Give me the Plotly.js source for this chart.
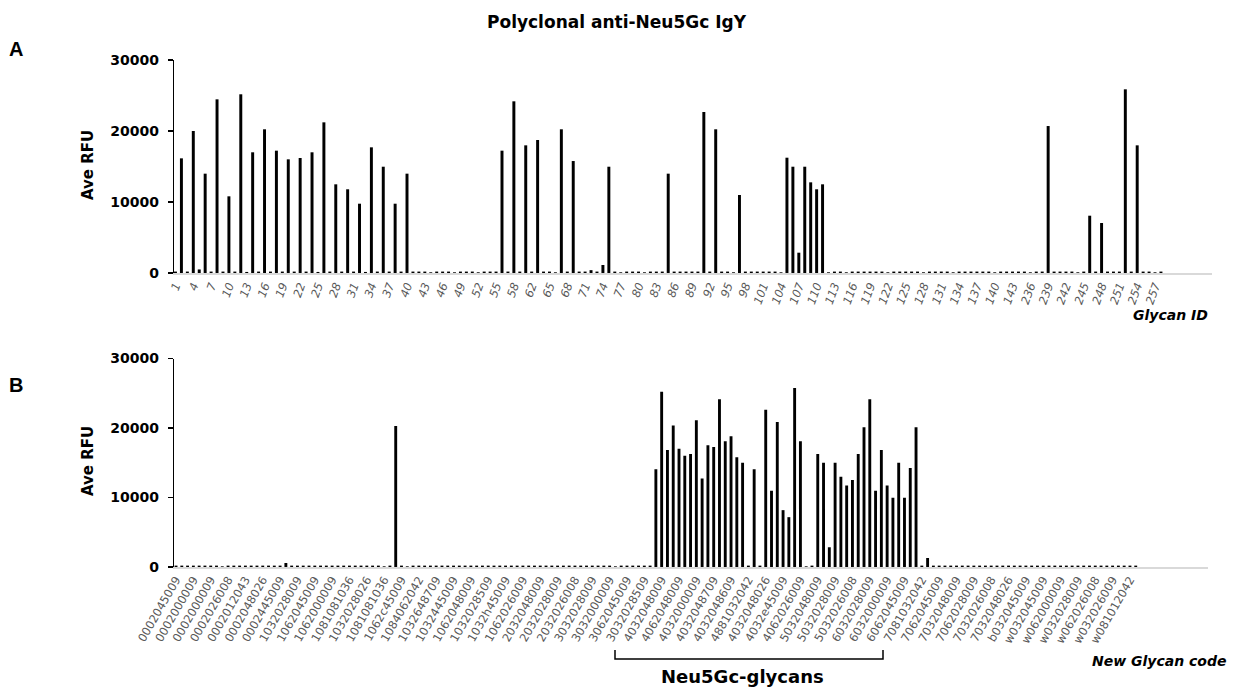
<!DOCTYPE html>
<html>
<head>
<meta charset="utf-8">
<script src="https://cdn.plot.ly/plotly-3.0.1.min.js"></script>
<style>html,body{margin:0;padding:0;background:#fff;}#chart{width:1234px;height:690px;}</style>
</head>
<body>
<div id="chart"></div>
<script>
// Panel A: Ave RFU by Glycan ID (ordered by ID)
var valuesA = [
  200, 16150, 200, 20000, 500, 13990, 200, 24460, 200, 10800,
  200, 25170, 150, 17000, 200, 20240, 200, 17230, 200, 16010,
  200, 16200, 200, 17000, 150, 21220, 200, 12490, 200, 11790,
  200, 9760, 150, 17700, 200, 14970, 200, 9760, 200, 13990,
  200, 200, 200, 100, 200, 200, 200, 100, 200, 200,
  200, 100, 200, 200, 200, 17230, 200, 24180, 200, 17980,
  200, 18730, 200, 200, 100, 20240, 200, 15770, 200, 200,
  400, 200, 1130, 14970, 200, 100, 200, 200, 200, 100,
  200, 200, 200, 13990, 200, 200, 200, 200, 200, 22680,
  200, 20240, 200, 200, 100, 10990, 200, 200, 200, 200,
  200, 200, 100, 16240, 14970, 2860, 14970, 12770, 11790, 12490,
  100, 200, 200, 100, 200, 200, 200, 200, 200, 200,
  100, 200, 200, 200, 200, 200, 100, 200, 200, 200,
  200, 100, 200, 200, 200, 200, 200, 200, 100, 200,
  200, 200, 200, 200, 100, 200, 200, 20700, 200, 200,
  200, 200, 100, 200, 8070, 200, 7040, 200, 200, 200,
  25870, 200, 17980, 200, 200, 100, 200
];
// Tick labels of panel A (every third glycan)
var tickLabelsA = [
  "1","4","7","10","13","16","19","22","25","28","31","34","37","40","43","46","49","52","55","58",
  "62","65","68","71","74","77","80","83","86","89","92","95","98","101","104","107","110","113","116","119",
  "122","125","128","131","134","137","140","143",
  "236","239","242","245","248","251","254","257"
];
// Panel B: Ave RFU by new glycan code
var valuesB = [
  200, 200, 200, 200, 200, 200, 200, 200, 100, 200,
  200, 200, 200, 200, 200, 200, 200, 200, 200, 580,
  200, 200, 200, 200, 200, 200, 200, 200, 200, 200,
  200, 200, 200, 200, 200, 200, 100, 200, 20270, 200,
  100, 200, 200, 200, 200, 200, 200, 200, 200, 200,
  200, 200, 200, 200, 200, 200, 200, 200, 200, 200,
  200, 200, 200, 200, 200, 200, 200, 200, 200, 200,
  200, 200, 200, 200, 200, 200, 100, 200, 200, 200,
  200, 200, 200, 14050, 25210, 16840, 20350, 17030, 16020, 16260,
  21120, 12750, 17510, 17270, 24150, 18090, 18810, 15780, 15010, 200,
  14050, 200, 22610, 10970, 20880, 8180, 7170, 25740, 18090, 100,
  200, 16260, 15010, 2840, 15010, 12990, 11740, 12510, 16260, 20110,
  24150, 10970, 16840, 11740, 9960, 15010, 9960, 14240, 20110, 200,
  1300, 200, 200, 200, 200, 200, 200, 200, 200, 200,
  200, 200, 200, 200, 200, 200, 200, 200, 200, 200,
  200, 200, 200, 200, 200, 200, 200, 200, 200, 200,
  200, 200, 200, 200, 200, 200, 200
];
var tickLabelsB = [
  "0002045009","0002000009","0002000009","0002026008","0002012043","0002048026","0002445009",
  "1032028009","1062045009","1062000009","1081081036","1032028026","1081081036","1062c45009",
  "1084062042","1032648709","1032445009","1062048009","1032028509","1032h45009","1062026009",
  "2032048009","2032028009","2032026008","3032028009","3032000009","3062045009","3032028509",
  "4032048009","4062048009","4032000009","4032048709","4032048609","4881032042","4032048026",
  "4032e45009","4062026009","5032048009","5032028009","5032026008","6032028009","6032000009",
  "6062045009","7081032042","7062045009","7032048009","7062028009","7032026008","7032048026",
  "b032045009","w032045009","w062000009","w032028009","w062026008","w032026009","w081012042"
];
var yTicks = [0, 10000, 20000, 30000];

var W = 1234, H = 690;
function px(x){ return x / W; }
function py(y){ return 1 - y / H; }

var xA = valuesA.map(function(_, i){ return i; });
var xB = valuesB.map(function(_, i){ return i; });
var tvA = tickLabelsA.map(function(_, i){ return i * 3; });
var tvB = tickLabelsB.map(function(_, i){ return i * 3; });

var boldFont = {family: "DejaVu Sans, Arial, sans-serif", size: 14, color: "#000", weight: "bold"};

var traces = [
  {type: "bar", x: xA, y: valuesA, xaxis: "x", yaxis: "y", width: 0.5,
   marker: {color: "#000", line: {width: 0}}, hoverinfo: "y"},
  {type: "bar", x: xB, y: valuesB, xaxis: "x2", yaxis: "y2", width: 0.5,
   marker: {color: "#000", line: {width: 0}}, hoverinfo: "y"}
];

function yAxis(domain, anchor){
  return {
    domain: domain, anchor: anchor, range: [0, 30000], tickvals: yTicks,
    ticktext: yTicks.map(String), showgrid: false, zeroline: false,
    showline: true, linecolor: "#000", linewidth: 1.3, ticks: "outside",
    ticklen: 5, tickwidth: 1.3, tickcolor: "#000", tickfont: boldFont,
    ticklabelstandoff: 6, automargin: false, fixedrange: true
  };
}

var layout = {
  width: W, height: H, margin: {l: 0, r: 0, t: 0, b: 0},
  paper_bgcolor: "#fff", plot_bgcolor: "#fff", showlegend: false, bargap: 0.5,
  xaxis: {
    domain: [px(174), px(1212)], anchor: "y", range: [-0.25, 174.6],
    tickmode: "array", tickvals: tvA, ticktext: tickLabelsA, tickangle: -70,
    tickfont: {family: "DejaVu Sans, Arial, sans-serif", size: 11.5, color: "#595959", style: "italic"},
    showgrid: false, zeroline: false, showline: true, linecolor: "#d9d9d9", linewidth: 1.5,
    ticks: "", automargin: false, fixedrange: true
  },
  yaxis: yAxis([py(273), py(60)], "x"),
  xaxis2: {
    domain: [px(174), px(1208)], anchor: "y2", range: [-0.35, 178.5],
    tickmode: "array", tickvals: tvB, ticktext: tickLabelsB, tickangle: -60,
    tickfont: {family: "DejaVu Sans, Arial, sans-serif", size: 11.5, color: "#595959"},
    showgrid: false, zeroline: false, showline: true, linecolor: "#d9d9d9", linewidth: 1.5,
    ticks: "", automargin: false, fixedrange: true
  },
  yaxis2: yAxis([py(567), py(358.5)], "x2"),
  annotations: [
    {text: "Polyclonal anti-Neu5Gc IgY", xref: "paper", yref: "paper", x: px(617), y: py(22),
     xanchor: "center", yanchor: "middle", showarrow: false,
     font: {family: "DejaVu Sans, Arial, sans-serif", size: 17, color: "#000", weight: "bold"}},
    {text: "A", xref: "paper", yref: "paper", x: px(16), y: py(49), xanchor: "center", yanchor: "middle",
     showarrow: false, font: {family: "Liberation Sans, Arial, sans-serif", size: 20, color: "#000", weight: "bold"}},
    {text: "B", xref: "paper", yref: "paper", x: px(16), y: py(385), xanchor: "center", yanchor: "middle",
     showarrow: false, font: {family: "Liberation Sans, Arial, sans-serif", size: 20, color: "#000", weight: "bold"}},
    {text: "Ave RFU", xref: "paper", yref: "paper", x: px(88), y: py(165), textangle: -90,
     xanchor: "center", yanchor: "middle", showarrow: false,
     font: {family: "DejaVu Sans, Arial, sans-serif", size: 15, color: "#000", weight: "bold"}},
    {text: "Ave RFU", xref: "paper", yref: "paper", x: px(88), y: py(461), textangle: -90,
     xanchor: "center", yanchor: "middle", showarrow: false,
     font: {family: "DejaVu Sans, Arial, sans-serif", size: 15, color: "#000", weight: "bold"}},
    {text: "Glycan ID", xref: "paper", yref: "paper", x: px(1210), y: py(315),
     xanchor: "right", yanchor: "middle", showarrow: false,
     font: {family: "DejaVu Sans, Arial, sans-serif", size: 14, color: "#000", weight: "bold", style: "italic"}},
    {text: "New Glycan code", xref: "paper", yref: "paper", x: px(1228), y: py(661),
     xanchor: "right", yanchor: "middle", showarrow: false,
     font: {family: "DejaVu Sans, Arial, sans-serif", size: 14, color: "#000", weight: "bold", style: "italic"}},
    {text: "Neu5Gc-glycans", xref: "paper", yref: "paper", x: px(742), y: py(676),
     xanchor: "center", yanchor: "middle", showarrow: false,
     font: {family: "DejaVu Sans, Arial, sans-serif", size: 18, color: "#000", weight: "bold"}}
  ],
  shapes: [
    {type: "path", xref: "paper", yref: "paper",
     path: "M " + px(615) + "," + py(650) + " L " + px(615) + "," + py(659) + " L " + px(883) + "," + py(659) + " L " + px(883) + "," + py(650),
     line: {color: "#000", width: 1.5}}
  ]
};

Plotly.newPlot("chart", traces, layout, {staticPlot: true, displayModeBar: false});
</script>
</body>
</html>
